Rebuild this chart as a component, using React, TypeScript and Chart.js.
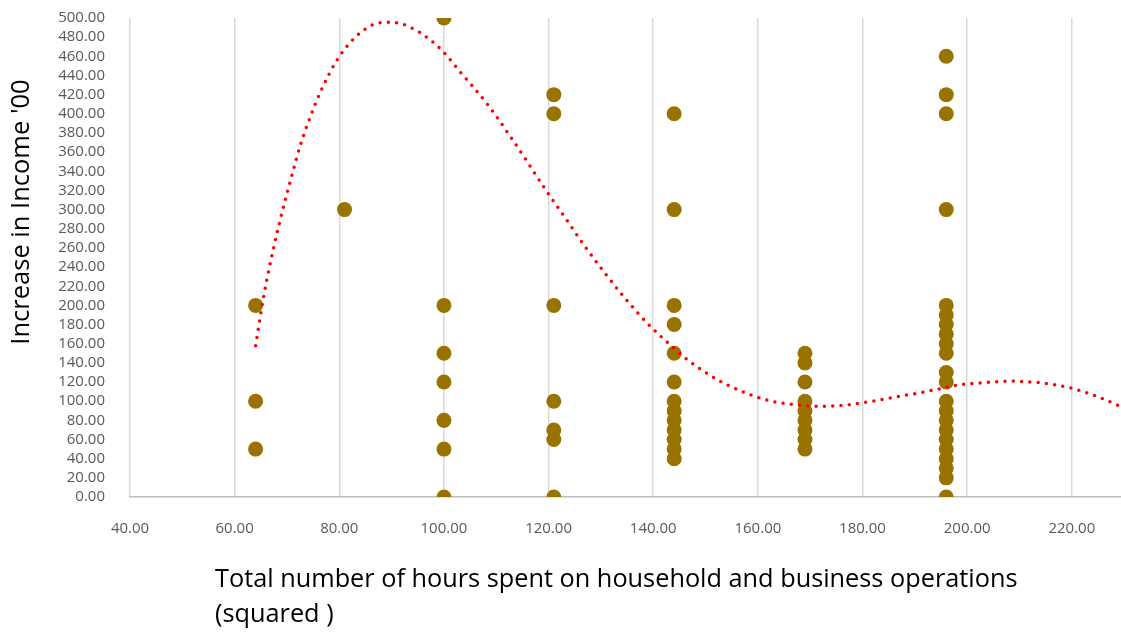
import React, { useEffect, useRef } from "react";
import { Chart, registerables } from "chart.js";

Chart.register(...registerables);

// Total number of hours (squared) – the x position of each column of points
const hoursSquared = [64, 81, 100, 121, 144, 169, 196];
// Increase in income ('00) observed in each column
const incomeAt64 = [200, 100, 50];
const incomeAt81 = [300];
const incomeAt100 = [500, 200, 150, 120, 80, 50, 0];
const incomeAt121 = [420, 400, 200, 100, 70, 60, 0];
const incomeAt144 = [400, 300, 200, 180, 150, 120, 100, 90, 80, 70, 60, 50, 40];
const incomeAt169 = [150, 140, 120, 100, 90, 80, 70, 60, 50];
const incomeAt196 = [460, 420, 400, 300, 200, 190, 180, 170, 160, 150, 130, 120, 100, 90, 80, 70, 60, 50, 40, 30, 20, 0];
const incomeColumns = [incomeAt64, incomeAt81, incomeAt100, incomeAt121, incomeAt144, incomeAt169, incomeAt196];

// Polynomial trend line
const trendX = [64, 65.6, 67.6, 69.1, 70.8, 72.6, 75.4, 78.1, 79.8, 81.7, 84.1, 86.9, 90.1, 93.3, 97.4, 99.9, 102.9, 108.3, 112.1, 115.8, 119.4, 123.1, 126.9, 130.8, 134.9, 139.3, 144, 146.6, 152.1, 157.9, 162.6, 167.5, 170.7, 175.6, 180.6, 187, 193.4, 198.3, 203.2, 208, 213, 217.8, 222.6, 228.8, 229.4];
const trendY = [158, 211, 264, 298, 333, 368, 410, 442, 458, 472, 485, 494, 495.5, 491, 477, 464.5, 445, 410, 381, 351, 321, 292, 262, 233.5, 205.6, 179, 155, 143, 123, 108, 100, 96, 94.7, 95.3, 98.8, 105, 111.4, 117, 119.3, 121, 119.7, 116.2, 109.3, 95.7, 94];

// Axis settings
const xMin = 40;
const xMax = 229.4;
const xStep = 20;
const yMin = 0;
const yMax = 500;
const yStep = 20;

const xTitleLines = ["Total number of hours spent on household and business operations", "(squared )"];
const yTitle = "Increase in Income '00";

export default function App() {
  const canvasRef = useRef<HTMLCanvasElement | null>(null);

  useEffect(() => {
    const canvas = canvasRef.current;
    if (!canvas) return;

    const points: { x: number; y: number }[] = [];
    hoursSquared.forEach((h, i) => {
      incomeColumns[i].forEach((v) => points.push({ x: h, y: v }));
    });
    const trend = trendX.map((x, i) => ({ x, y: trendY[i] }));

    const titlePlugin = {
      id: "axisTitles",
      afterDraw(chart: any) {
        const ctx = chart.ctx as CanvasRenderingContext2D;
        ctx.save();
        ctx.fillStyle = "#000000";
        ctx.font = '25.3px "Open Sans"';
        ctx.textAlign = "left";
        ctx.textBaseline = "middle";
        ctx.fillText(xTitleLines[0], 215, 580);
        ctx.fillText(xTitleLines[1], 215, 615);
        ctx.font = '25.5px "Open Sans"';
        ctx.translate(22, 212);
        ctx.rotate(-Math.PI / 2);
        ctx.textAlign = "center";
        ctx.fillText(yTitle, 0, 0);
        ctx.restore();
      },
    };

    const chart = new Chart(canvas, {
      type: "scatter",
      data: {
        datasets: [
          {
            type: "line",
            label: "Trend",
            data: trend,
            borderColor: "#ff0000",
            borderWidth: 3.5,
            borderDash: [0, 8.3],
            borderCapStyle: "round",
            pointRadius: 0,
            cubicInterpolationMode: "monotone",
            fill: false,
            order: 0,
          } as any,
          {
            label: "Increase in Income",
            data: points,
            backgroundColor: "#997300",
            borderColor: "#997300",
            borderWidth: 0,
            pointRadius: 7.5,
            pointHoverRadius: 7.5,
            order: 1,
          },
        ],
      },
      options: {
        responsive: false,
        animation: false,
        events: [],
        layout: { autoPadding: false, padding: { top: 18, right: 0, bottom: 0, left: 0 } },
        plugins: {
          legend: { display: false },
          tooltip: { enabled: false },
          title: { display: false },
        },
        scales: {
          x: {
            type: "linear",
            min: xMin,
            max: xMax,
            afterFit: (scale: any) => {
              scale.height = 136;
              scale.paddingLeft = 0;
              scale.paddingRight = 0;
            },
            ticks: {
              stepSize: xStep,
              includeBounds: false,
              padding: 23,
              color: "#595959",
              font: { family: '"Open Sans"', size: 15 },
              maxRotation: 0,
              callback: (v: any) => Number(v).toFixed(2),
            },
            grid: {
              display: true,
              color: "#d9d9d9",
              lineWidth: 1.5,
              drawTicks: false,
            },
            border: { display: true, color: "#bfbfbf", width: 1.5 },
          },
          y: {
            type: "linear",
            min: yMin,
            max: yMax,
            afterFit: (scale: any) => {
              scale.width = 130;
              scale.paddingTop = 0;
              scale.paddingBottom = 0;
            },
            ticks: {
              stepSize: yStep,
              padding: 25,
              color: "#595959",
              font: { family: '"Open Sans"', size: 15 },
              autoSkip: false,
              callback: (v: any) => Number(v).toFixed(2),
            },
            grid: { display: false, drawTicks: false },
            border: { display: false },
          },
        },
      },
      plugins: [titlePlugin],
    });

    return () => chart.destroy();
  }, []);

  return (
    <div style={{ position: "fixed", left: 0, top: 0, width: 1121, height: 633, background: "#ffffff" }}>
      <canvas ref={canvasRef} width={1121} height={633} style={{ display: "block" }} />
    </div>
  );
}
